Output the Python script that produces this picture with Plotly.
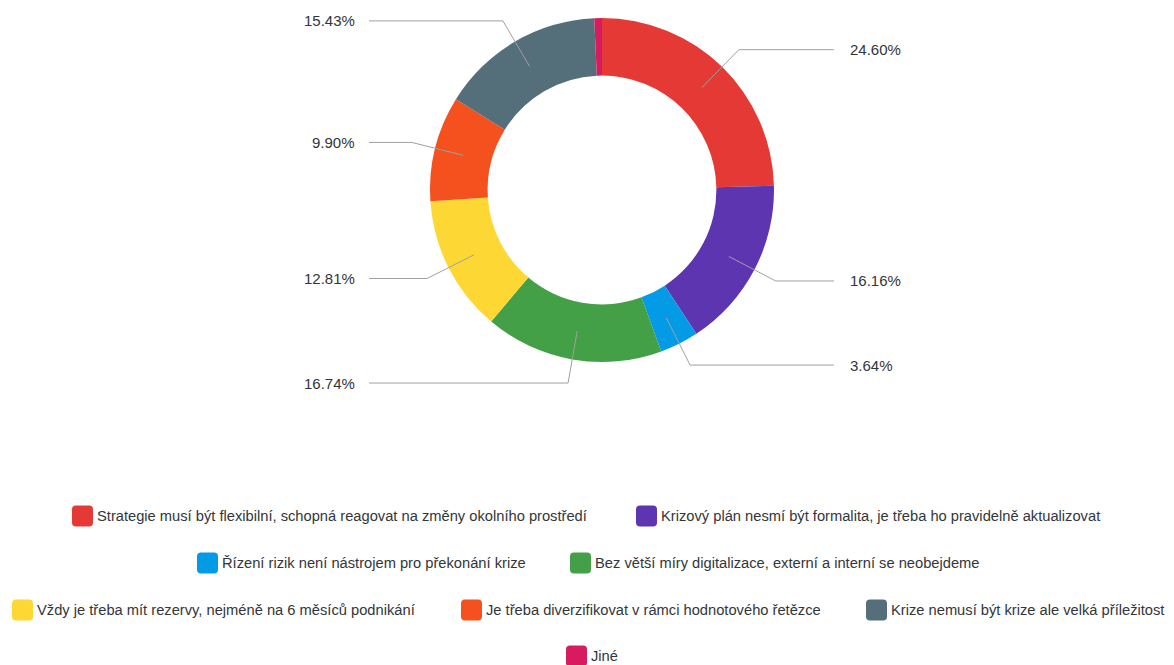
import math
import plotly.graph_objects as go

# ---------------- data ----------------
categories = [
    "Strategie musí být flexibilní, schopná reagovat na změny okolního prostředí",
    "Krizový plán nesmí být formalita, je třeba ho pravidelně aktualizovat",
    "Řízení rizik není nástrojem pro překonání krize",
    "Bez větší míry digitalizace, externí a interní se neobejdeme",
    "Vždy je třeba mít rezervy, nejméně na 6 měsíců podnikání",
    "Je třeba diverzifikovat v rámci hodnotového řetězce",
    "Krize nemusí být krize ale velká příležitost",
    "Jiné",
]
values = [24.60, 16.16, 3.64, 16.74, 12.81, 9.90, 15.43, 0.72]
show_value_label = [True, True, True, True, True, True, True, False]
colors = ["#E53935", "#5E35B1", "#039BE5", "#43A047",
          "#FDD835", "#F4511E", "#546E7A", "#D81B60"]

# ---------------- layout constants (page pixels) ----------------
PAGE_W, PAGE_H = 1174, 665
OFF = 8                       # default body margin of the html page
W, H = PAGE_W - OFF, PAGE_H - OFF
CX, CY = 602, 190             # pie centre
R_OUT = 172
HOLE = 0.665
R_MID = R_OUT * (1 + HOLE) / 2
R_ELBOW = 196
LINE_END_LEFT, TEXT_LEFT = 369, 357
LINE_END_RIGHT, TEXT_RIGHT = 834, 848
FONT = "Liberation Sans"
FONT_SIZE = 15
LEGEND_FONT_SIZE = 14.7
TEXT_COLOR = "#32363A"
LINE_COLOR = "#A0A0A0"

# legend placement: (row y centre, marker left x) per item
legend_rows_y = [516, 516, 563, 563, 610, 610, 610, 656]
legend_marker_x = [72, 636, 197, 570, 12, 461, 866, 566]
MARK = 21


def px(x):
    return (x - OFF) / W


def py(y):
    return 1 - (y - OFF) / H


fig = go.Figure()
fig.add_trace(go.Pie(
    labels=categories,
    values=values,
    sort=False,
    direction="clockwise",
    rotation=0,
    hole=HOLE,
    marker=dict(colors=colors, line=dict(width=0)),
    textinfo="none",
    hoverinfo="label+percent",
    showlegend=False,
    domain=dict(x=[px(CX - R_OUT), px(CX + R_OUT)],
                y=[py(CY + R_OUT), py(CY - R_OUT)]),
))

shapes = []
annotations = []

# leader lines and value labels, computed from the values
total = sum(values)
cum = 0.0
for v, show in zip(values, show_value_label):
    mid = (cum + v / 2) / total * 2 * math.pi
    cum += v
    if not show:
        continue
    sx = CX + R_MID * math.sin(mid)
    sy = CY - R_MID * math.cos(mid)
    ex = CX + R_ELBOW * math.sin(mid)
    ey = CY - R_ELBOW * math.cos(mid)
    right = math.sin(mid) >= 0
    lx = LINE_END_RIGHT if right else LINE_END_LEFT
    shapes.append(dict(
        type="path", xref="paper", yref="paper",
        path=f"M {px(sx)},{py(sy)} L {px(ex)},{py(ey)} L {px(lx)},{py(ey)}",
        line=dict(color=LINE_COLOR, width=1),
    ))
    annotations.append(dict(
        text=f"{v / total * 100:.2f}%",
        x=px(TEXT_RIGHT if right else TEXT_LEFT), y=py(ey),
        xref="paper", yref="paper",
        xanchor="left" if right else "right", yanchor="middle",
        showarrow=False,
        font=dict(family=FONT, size=FONT_SIZE, color=TEXT_COLOR),
    ))

# custom centred legend
rad = 4
for name, col, ry, mx in zip(categories, colors, legend_rows_y, legend_marker_x):
    x0, x1 = mx, mx + MARK
    y0, y1 = ry - MARK / 2, ry + MARK / 2
    path = (
        f"M {px(x0 + rad)},{py(y0)} L {px(x1 - rad)},{py(y0)} "
        f"Q {px(x1)},{py(y0)} {px(x1)},{py(y0 + rad)} "
        f"L {px(x1)},{py(y1 - rad)} Q {px(x1)},{py(y1)} {px(x1 - rad)},{py(y1)} "
        f"L {px(x0 + rad)},{py(y1)} Q {px(x0)},{py(y1)} {px(x0)},{py(y1 - rad)} "
        f"L {px(x0)},{py(y0 + rad)} Q {px(x0)},{py(y0)} {px(x0 + rad)},{py(y0)} Z"
    )
    shapes.append(dict(type="path", xref="paper", yref="paper", path=path,
                       fillcolor=col, line=dict(width=0)))
    annotations.append(dict(
        text=name, x=px(x1 + 3), y=py(ry), xref="paper", yref="paper",
        xanchor="left", yanchor="middle", showarrow=False, borderpad=0,
        font=dict(family=FONT, size=LEGEND_FONT_SIZE, color=TEXT_COLOR),
    ))

fig.update_layout(
    width=W, height=H,
    margin=dict(l=0, r=0, t=0, b=0),
    paper_bgcolor="white",
    plot_bgcolor="white",
    shapes=shapes,
    annotations=annotations,
    showlegend=False,
)

fig.write_html("out.html")
